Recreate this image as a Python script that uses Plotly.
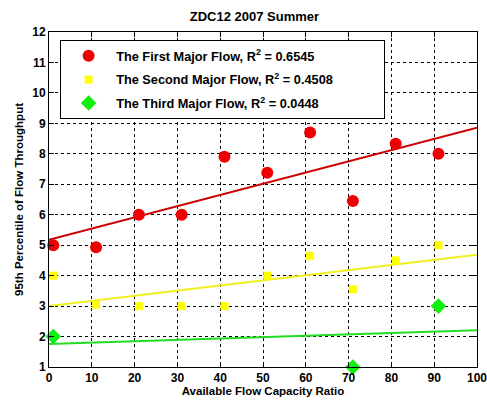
import numpy as np
import plotly.graph_objects as go

# Available flow capacity ratio (%) at which each flow was sampled
ratio = [1, 11, 21, 31, 41, 51, 61, 71, 81, 91]
first_flow = [5.0, 4.93, 6.0, 6.0, 7.9, 7.38, 8.7, 6.45, 8.33, 8.0]
second_flow = [4.0, 3.05, 3.0, 3.0, 3.0, 4.0, 4.65, 3.55, 4.5, 5.0]
third_ratio = [1, 71, 91]
third_flow = [2.0, 1.0, 3.0]

pad = "\u00a0" * 13
series = [
    ("The First Major Flow, R<sup>2</sup> = 0.6545" + pad, ratio, first_flow,
     dict(symbol="circle", size=12, color="#ee0000"), "#cc0000"),
    ("The Second Major Flow, R<sup>2</sup> = 0.4508" + pad, ratio, second_flow,
     dict(symbol="square", size=8, color="#ffff00"), "#f0f020"),
    ("The Third Major Flow, R<sup>2</sup> = 0.0448" + pad, third_ratio, third_flow,
     dict(symbol="diamond", size=12, color="#11ee11"), "#22dd22"),
]

fig = go.Figure()
fit_x = np.array([0, 100])
for i, (name, xs, ys, marker, line_color) in enumerate(series):
    slope, intercept = np.polyfit(xs, ys, 1)
    fig.add_trace(go.Scatter(
        x=fit_x, y=slope * fit_x + intercept, mode="lines",
        line=dict(color=line_color, width=2), showlegend=False,
        hoverinfo="skip"))
for i, (name, xs, ys, marker, line_color) in enumerate(series):
    fig.add_trace(go.Scatter(
        x=xs, y=ys, mode="markers", name=name, legendgroup=f"g{i}",
        marker=dict(line=dict(width=0), **marker), cliponaxis=False))

family = "Liberation Sans, Arial, sans-serif"


def bold(size):
    return dict(family=family, size=size, color="black", weight="bold")


axis_common = dict(
    showline=True, linecolor="black", linewidth=1, mirror="ticks",
    ticks="inside", ticklen=5, tickcolor="black",
    showgrid=True, gridcolor="black", gridwidth=1, griddash="dot",
    zeroline=False, tickfont=bold(12), automargin=False,
    ticklabeloverflow="allow",
)

fig.update_layout(
    width=487, height=403,
    margin=dict(l=49, r=10, t=32, b=36),
    paper_bgcolor="white", plot_bgcolor="white",
    title=dict(text="ZDC12 2007 Summer", xref="paper", x=0.48,
               xanchor="center", y=0.958, yanchor="middle", font=bold(13)),
    xaxis=dict(range=[0, 100], dtick=10,
               title=dict(text="Available Flow Capacity Ratio",
                          font=bold(11.5), standoff=2),
               **axis_common),
    yaxis=dict(range=[1, 12], dtick=1,
               title=dict(text="95th Percentile of Flow Throughput",
                          font=bold(11.5), standoff=6),
               **axis_common),
    legend=dict(x=0.026, y=0.976, xanchor="left", yanchor="top",
                bgcolor="white", bordercolor="black", borderwidth=1,
                font=bold(12.75), itemwidth=45, tracegroupgap=4),
    showlegend=True,
)

fig.write_html("out.html")
